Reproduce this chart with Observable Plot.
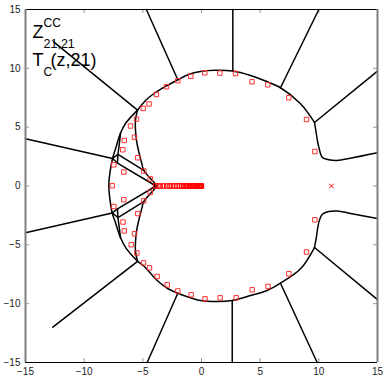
<!DOCTYPE html>
<html><head><meta charset="utf-8">
<script src="https://cdn.jsdelivr.net/npm/d3@7"></script>
<script src="https://cdn.jsdelivr.net/npm/@observablehq/plot@0.6"></script>
<style>body{margin:0;background:#fff}</style>
</head><body><div id="chart"></div>
<script>
const xTicks = [-15, -10, -5, 0, 5, 10, 15];
const yTicks = [-15, -10, -5, 0, 5, 10, 15];

// boundary curves [x, y]
const circleTop = [[9.63,5.40],[8.44,6.99],[6.73,8.35],[5.45,8.92],[4.18,9.39],[2.64,9.77],[1.19,9.83],[-0.09,9.73],[-1.11,9.48],[-2.05,9.01],[-3.07,8.46],[-4.07,7.84],[-4.77,7.27],[-5.45,6.45]];
const circleBottom = [[-5.45,-6.40],[-4.92,-6.80],[-3.78,-8.03],[-2.92,-8.69],[-2.02,-9.11],[-0.94,-9.50],[-0.09,-9.73],[1.34,-9.82],[2.62,-9.73],[4.18,-9.31],[5.60,-8.88],[6.73,-8.26],[8.44,-7.04],[9.63,-5.23]];
const outerLeft = [[-5.45,6.45],[-6.45,5.35],[-6.90,4.50],[-7.30,3.25],[-7.58,2.34],[-7.80,1.15],[-7.90,0],[-7.80,-1.15],[-7.61,-2.29],[-7.32,-3.15],[-6.90,-4.40],[-6.42,-5.30],[-5.45,-6.40]];
const innerLeft = [[-5.45,6.45],[-5.63,5.57],[-5.54,3.87],[-5.33,2.85],[-5.11,2.00],[-4.92,1.32],[-4.39,0.68],[-3.88,0],[-4.39,-0.68],[-4.92,-1.32],[-5.11,-2.00],[-5.33,-2.85],[-5.54,-3.87],[-5.63,-5.50],[-5.45,-6.40]];
const middleUpper = [[-6.90,4.50],[-7.03,3.36],[-7.12,2.68],[-7.16,1.95]];
const middleLower = [[-6.90,-4.40],[-7.03,-3.36],[-7.12,-2.68],[-7.16,-1.95]];
const crossUpperA = [[-7.58,2.34],[-7.12,2.68],[-4.92,1.32]];
const crossUpperB = [[-7.58,2.34],[-7.16,1.95],[-3.88,0]];
const crossLowerA = [[-7.61,-2.29],[-7.12,-2.68],[-4.92,-1.32]];
const crossLowerB = [[-7.61,-2.29],[-7.16,-1.95],[-3.88,0]];
const rightUpper = [[9.63,5.40],[9.78,4.50],[9.88,3.85],[10.0,3.30],[10.29,2.45],[10.85,2.23],[11.57,2.17],[12.7,2.36],[15,2.82]];
const rightLower = [[9.63,-5.23],[9.78,-4.40],[9.90,-3.60],[10.05,-2.90],[10.30,-2.40],[10.85,-2.17],[11.57,-2.12],[12.7,-2.33],[15,-2.76]];

const spokes = [
  [[-12.6,12.25],[-5.45,6.45]],
  [[-4.7,15],[-2.02,9.03]],
  [[2.67,15],[2.67,9.77]],
  [[10.0,15],[6.73,8.35]],
  [[15,9.76],[9.63,5.40]],
  [[15,-9.65],[9.63,-5.23]],
  [[9.86,-15],[6.73,-8.26]],
  [[2.62,-15],[2.62,-9.73]],
  [[-4.63,-15],[-2.02,-9.11]],
  [[-12.67,-12.0],[-5.45,-6.40]],
  [[-15,4.01],[-7.58,2.34]],
  [[-15,-3.98],[-7.61,-2.29]]
];

// red squares (eigenvalue-like points)
const squaresX = [8.95,7.44,5.65,4.30,2.90,1.56,0.28,-0.91,-2.02,-2.98,-3.84,-4.47,-4.97,-5.54,-6.05,-5.71,-6.58,-6.71,-5.43,-7.47,-6.62,-4.92,-4.37,-7.60,9.66,
  8.95,7.44,5.67,4.32,2.96,1.59,0.30,-0.88,-2.02,-2.92,-3.78,-4.43,-4.94,-5.51,-5.99,-5.71,-6.58,-6.69,-5.43,-7.47,-6.62,-4.92,-4.37,9.66];
const squaresY = [5.65,7.50,8.60,8.86,9.56,9.60,9.62,9.32,8.95,8.44,7.78,6.97,6.59,5.69,5.10,4.15,3.87,3.08,2.40,1.80,1.19,1.27,0.61,0.02,2.93,
  -5.61,-7.46,-8.54,-8.82,-9.50,-9.50,-9.59,-9.24,-8.92,-8.40,-7.69,-6.95,-6.53,-5.69,-4.99,-4.06,-3.82,-3.06,-2.34,-1.74,-1.17,-1.26,-0.55,-2.87];
const axisSquaresX = [-3.92,-3.71,-3.52,-3.24,-2.96,-2.73,-2.50,-2.27,-2.07,-1.88,-1.70,-1.55,-1.40,-1.27,-1.15,-1.03,-0.92,-0.82,-0.72,-0.63,-0.54,-0.46,-0.38,-0.31,-0.24,-0.18,-0.12,-0.07,-0.03,0];
const crossX = [11.08];
const crossY = [0];

const W = 387, H = 379;
const mL = 25, mR = 10, mT = 9, mB = 17;
const pw = W - mL - mR, ph = H - mT - mB;

const curved = [circleTop, circleBottom, outerLeft, innerLeft, rightUpper, rightLower, middleUpper, middleLower];
const straight = [crossUpperA, crossUpperB, crossLowerA, crossLowerB, ...spokes];

const sq = squaresX.map((x, i) => ({x, y: squaresY[i]}));
const axSq = axisSquaresX.map(x => ({x, y: 0}));
const cr = crossX.map((x, i) => ({x, y: crossY[i]}));

const lineStyle = {stroke: "black", strokeWidth: 1.5};

const chart = Plot.plot({
  width: W, height: H,
  marginLeft: mL, marginRight: mR, marginTop: mT, marginBottom: mB,
  style: {fontFamily: "'Liberation Sans', Arial, sans-serif", fontSize: "10px", color: "#222", background: "white"},
  x: {domain: [-15, 15], label: null},
  y: {domain: [-15, 15], label: null},
  marks: [
    Plot.axisX(xTicks, {tickSize: 0, tickPadding: 5, fontSize: 10, label: null}),
    Plot.axisY(yTicks, {tickSize: 0, tickPadding: 5, fontSize: 10, label: null}),
    Plot.tickX(xTicks, {x: d => d, stroke: "#999", insetTop: ph - 4}),
    Plot.tickX(xTicks, {x: d => d, stroke: "#999", insetBottom: ph - 4}),
    Plot.tickY(yTicks, {y: d => d, stroke: "#999", insetRight: pw - 4}),
    Plot.tickY(yTicks, {y: d => d, stroke: "#999", insetLeft: pw - 4}),
    ...curved.map(p => Plot.line(p, {x: d => d[0], y: d => d[1], curve: "catmull-rom", ...lineStyle})),
    ...straight.map(p => Plot.line(p, {x: d => d[0], y: d => d[1], ...lineStyle})),
    Plot.dot(sq, {x: "x", y: "y", symbol: "square", r: 2.5, stroke: "#ff3030", strokeWidth: 1, fill: "none"}),
    Plot.dot(axSq, {x: "x", y: "y", symbol: "square", r: 2.5, stroke: "red", strokeWidth: 1, fill: "none"}),
    Plot.dot(cr, {x: "x", y: "y", symbol: "times", r: 2.2, stroke: "red", strokeWidth: 1}),
    Plot.ruleY([-15, 15], {stroke: "black", strokeWidth: 1}),
    Plot.ruleX([-15, 15], {stroke: "#808080", strokeWidth: 2}),
    Plot.text(["Z"], {frameAnchor: "top-left", textAnchor: "start", lineAnchor: "top", dx: 7, dy: 16, fontSize: 18, fill: "black"}),
    Plot.text(["CC"], {frameAnchor: "top-left", textAnchor: "start", lineAnchor: "top", dx: 18, dy: 9, fontSize: 12, fill: "black"}),
    Plot.text(["21,21"], {frameAnchor: "top-left", textAnchor: "start", lineAnchor: "top", dx: 18, dy: 30, fontSize: 12.5, fill: "black"}),
    Plot.text(["T"], {frameAnchor: "top-left", textAnchor: "start", lineAnchor: "top", dx: 7, dy: 44, fontSize: 18, fill: "black"}),
    Plot.text(["C"], {frameAnchor: "top-left", textAnchor: "start", lineAnchor: "top", dx: 18, dy: 58, fontSize: 12, fill: "black"}),
    Plot.text(["(z,21)"], {frameAnchor: "top-left", textAnchor: "start", lineAnchor: "top", dx: 25, dy: 44, fontSize: 18, fill: "black"})
  ]
});
document.getElementById("chart").appendChild(chart);
</script>
</body></html>
